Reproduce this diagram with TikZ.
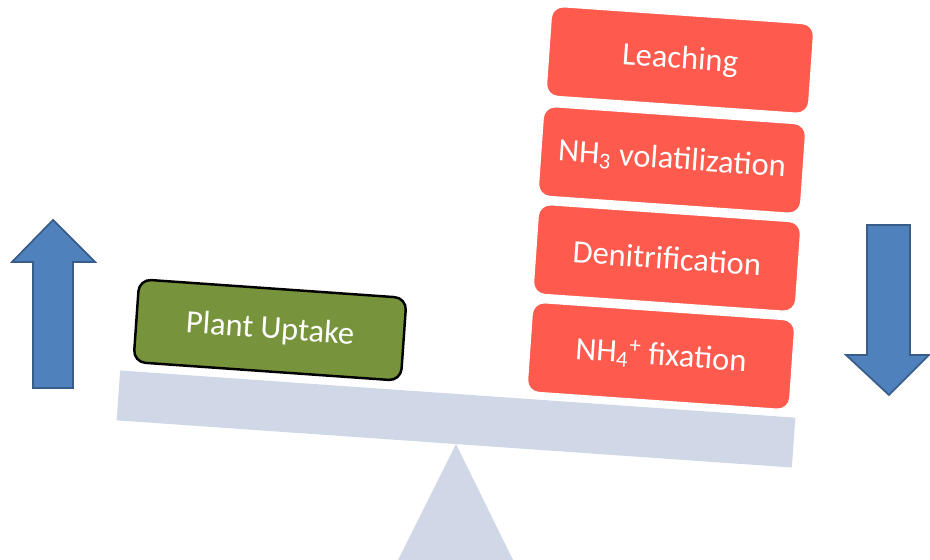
\documentclass[tikz,border=0pt]{standalone}
\usepackage{fontspec}
\setmainfont{Carlito}
\usepackage{tikz}
\usetikzlibrary{positioning}
\definecolor{arrowblue}{RGB}{79,129,189}
\definecolor{arrowedge}{RGB}{56,93,138}
\definecolor{beamgrey}{RGB}{208,216,232}
\definecolor{uptakegreen}{RGB}{119,147,60}
\definecolor{lossred}{RGB}{254,90,78}
\tikzset{
    lossbox/.style={rectangle, rounded corners=0.24cm, fill=lossred, draw=white, thick, minimum width=5.26cm, minimum height=1.8cm, rotate=-4, text=white, font=\fontsize{18.5}{22}\selectfont},
    uptakebox/.style={rectangle, rounded corners=0.24cm, fill=uptakegreen, draw=black, line width=1.4pt, minimum width=5.36cm, minimum height=1.66cm, rotate=-4, text=white, font=\fontsize{18.5}{22}\selectfont},
    beambar/.style={rectangle, fill=beamgrey, draw=none, minimum width=13.54cm, minimum height=1cm, rotate=-4},
    bigarrow/.style={fill=arrowblue, draw=arrowedge, line width=1pt}
}

\begin{document}
\begin{tikzpicture}[x=0.02cm, y=0.02cm]
    \useasboundingbox (0,0) rectangle (930,560);

    % Fulcrum and beam
    \coordinate (pivot) at (456,116);
    \fill[beamgrey] (pivot) -- (513,0) -- (398,0) -- cycle;
    \node[beambar] (beam) at (456,141) {};

    % Weights on the beam
    \node[uptakebox] (uptake) at (270,230) {Plant Uptake};
    \node[lossbox] (leach) at (680,500) {Leaching};
    \node[lossbox] (volat) at (672,400) {NH\textsubscript{3} volatilization};
    \node[lossbox] (denit) at (667,302) {Denitrification};
    \node[lossbox] (fixat) at (661,204) {NH\textsubscript{4}\textsuperscript{+} fixation};

    % Up and down arrows
    \draw[bigarrow] (33,172) -- (33,298) -- (12,298) -- (53,340) -- (95,298) -- (73,298) -- (73,172) -- cycle;
    \draw[bigarrow] (867,335) -- (867,205) -- (846,205) -- (889,165) -- (929,205) -- (910,205) -- (910,335) -- cycle;
\end{tikzpicture}
\end{document}
